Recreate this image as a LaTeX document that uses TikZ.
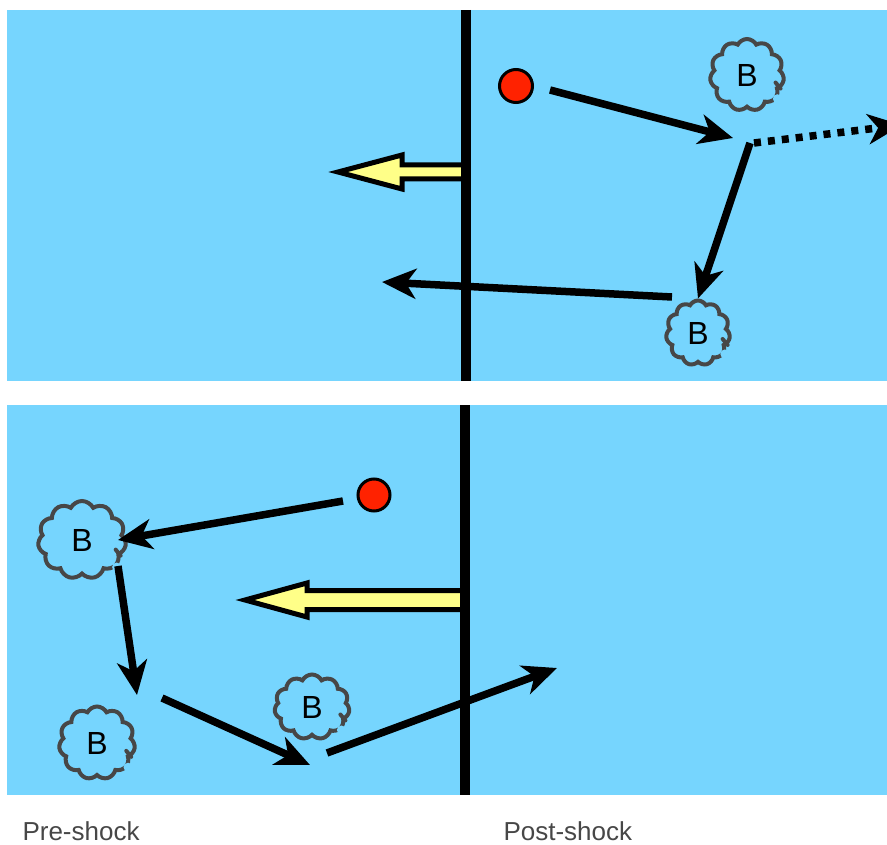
\documentclass[tikz,border=0pt]{standalone}
\usepackage{fontspec}
\setmainfont{Liberation Sans}
\usepackage{xcolor}
\usetikzlibrary{arrows.meta, shapes.symbols, positioning}

\definecolor{nen}{HTML}{76D5FE}
\definecolor{vang}{HTML}{FFFF88}
\definecolor{hatdo}{HTML}{FF2200}
\definecolor{xam}{HTML}{474747}

\tikzset{
    mayB/.style={cloud, cloud puffs=11, cloud puff arc=125, cloud ignores aspect,
        draw=xam, line width=4pt, inner sep=0pt,
        font=\fontsize{32}{32}\selectfont},
    hat/.style={circle, draw=black, line width=3pt, fill=hatdo,
        minimum size=33pt, inner sep=0pt},
    duong/.style={line width=7.5pt, -{Stealth[length=34pt, width=30pt, inset=10pt]}},
    soc/.style={line width=10pt},
    dongchay/.style={draw=black, fill=vang, line width=5pt, line join=miter},
    nhan/.style={anchor=base west, text=xam, font=\fontsize{26}{26}\selectfont}
}

\begin{document}
\begin{tikzpicture}[x=1pt, y=-1pt]
    \useasboundingbox (0,0) rectangle (887,845);

    % Nền hai khung
    \fill[nen] (7,10) rectangle (887,381);
    \fill[nen] (7,405) rectangle (887,795);

    % Dòng chảy
    \draw[dongchay] (466,165) -- (402,165) -- (402,155) -- (338,172)
        -- (402,189) -- (402,179) -- (466,179) -- cycle;
    \draw[dongchay] (464,590.5) -- (307,590.5) -- (307,583) -- (245,600)
        -- (307,617) -- (307,609.5) -- (464,609.5) -- cycle;

    % Sóng xung kích
    \draw[soc] (466,10) -- (466,381);
    \draw[soc] (464.5,405) -- (464.5,795);

    % Đám mây B
    \node[mayB, minimum width=74pt, minimum height=72pt] (B1) at (747,75) {B};
    \node[mayB, minimum width=64pt, minimum height=65pt] (B2) at (698,333) {B};
    \node[mayB, minimum width=88pt, minimum height=78pt] (B3) at (82,540) {B};
    \node[mayB, minimum width=76pt, minimum height=73pt] (B4) at (97,743) {B};
    \node[mayB, minimum width=75pt, minimum height=65pt] (B5) at (312,707) {B};
    % chỗ hở của mây
    \foreach \m in {B1,B2,B3,B4,B5} {
        \fill[nen] (\m.-38) circle (4.5pt);
        \draw[xam, line width=4pt, line cap=round] (\m.-22) -- ++(-5,-6);
    }

    % Hạt
    \node[hat] (h1) at (516,86) {};
    \node[hat, minimum size=32pt] (h2) at (374,495) {};

    % Đường đi của hạt (khung trên)
    \coordinate (t1) at (550,90);
    \coordinate (t2) at (733,138);
    \coordinate (t3) at (750,143);
    \coordinate (t4) at (754,143);
    \coordinate (t5) at (902,125);
    \coordinate (t6) at (672,297);
    \coordinate (t7) at (382,282);
    \draw[duong] (t1) -- (t2);
    \draw[duong] (t3) -- (B2.north);
    \draw[duong] (t6) -- (t7);
    \begin{scope}
        \clip (7,10) rectangle (887,381);
        \draw[duong, dash pattern=on 7pt off 7pt] (t4) -- (t5);
    \end{scope}

    % Đường đi của hạt (khung dưới)
    \coordinate (d1) at (343,501);
    \coordinate (d2) at (118,540);
    \coordinate (d3) at (118,566);
    \coordinate (d4) at (137,695);
    \coordinate (d5) at (162,698);
    \coordinate (d6) at (310,765);
    \coordinate (d7) at (327,753);
    \coordinate (d8) at (557,668);
    \draw[duong] (d1) -- (d2);
    \draw[duong] (d3) -- (d4);
    \draw[duong] (d5) -- (d6);
    \draw[duong] (d7) -- (d8);

    % Nhãn
    \node[nhan] (truoc) at (19,840) {Pre-shock};
    \node[nhan] (sau) at (500,840) {Post-shock};
\end{tikzpicture}
\end{document}
